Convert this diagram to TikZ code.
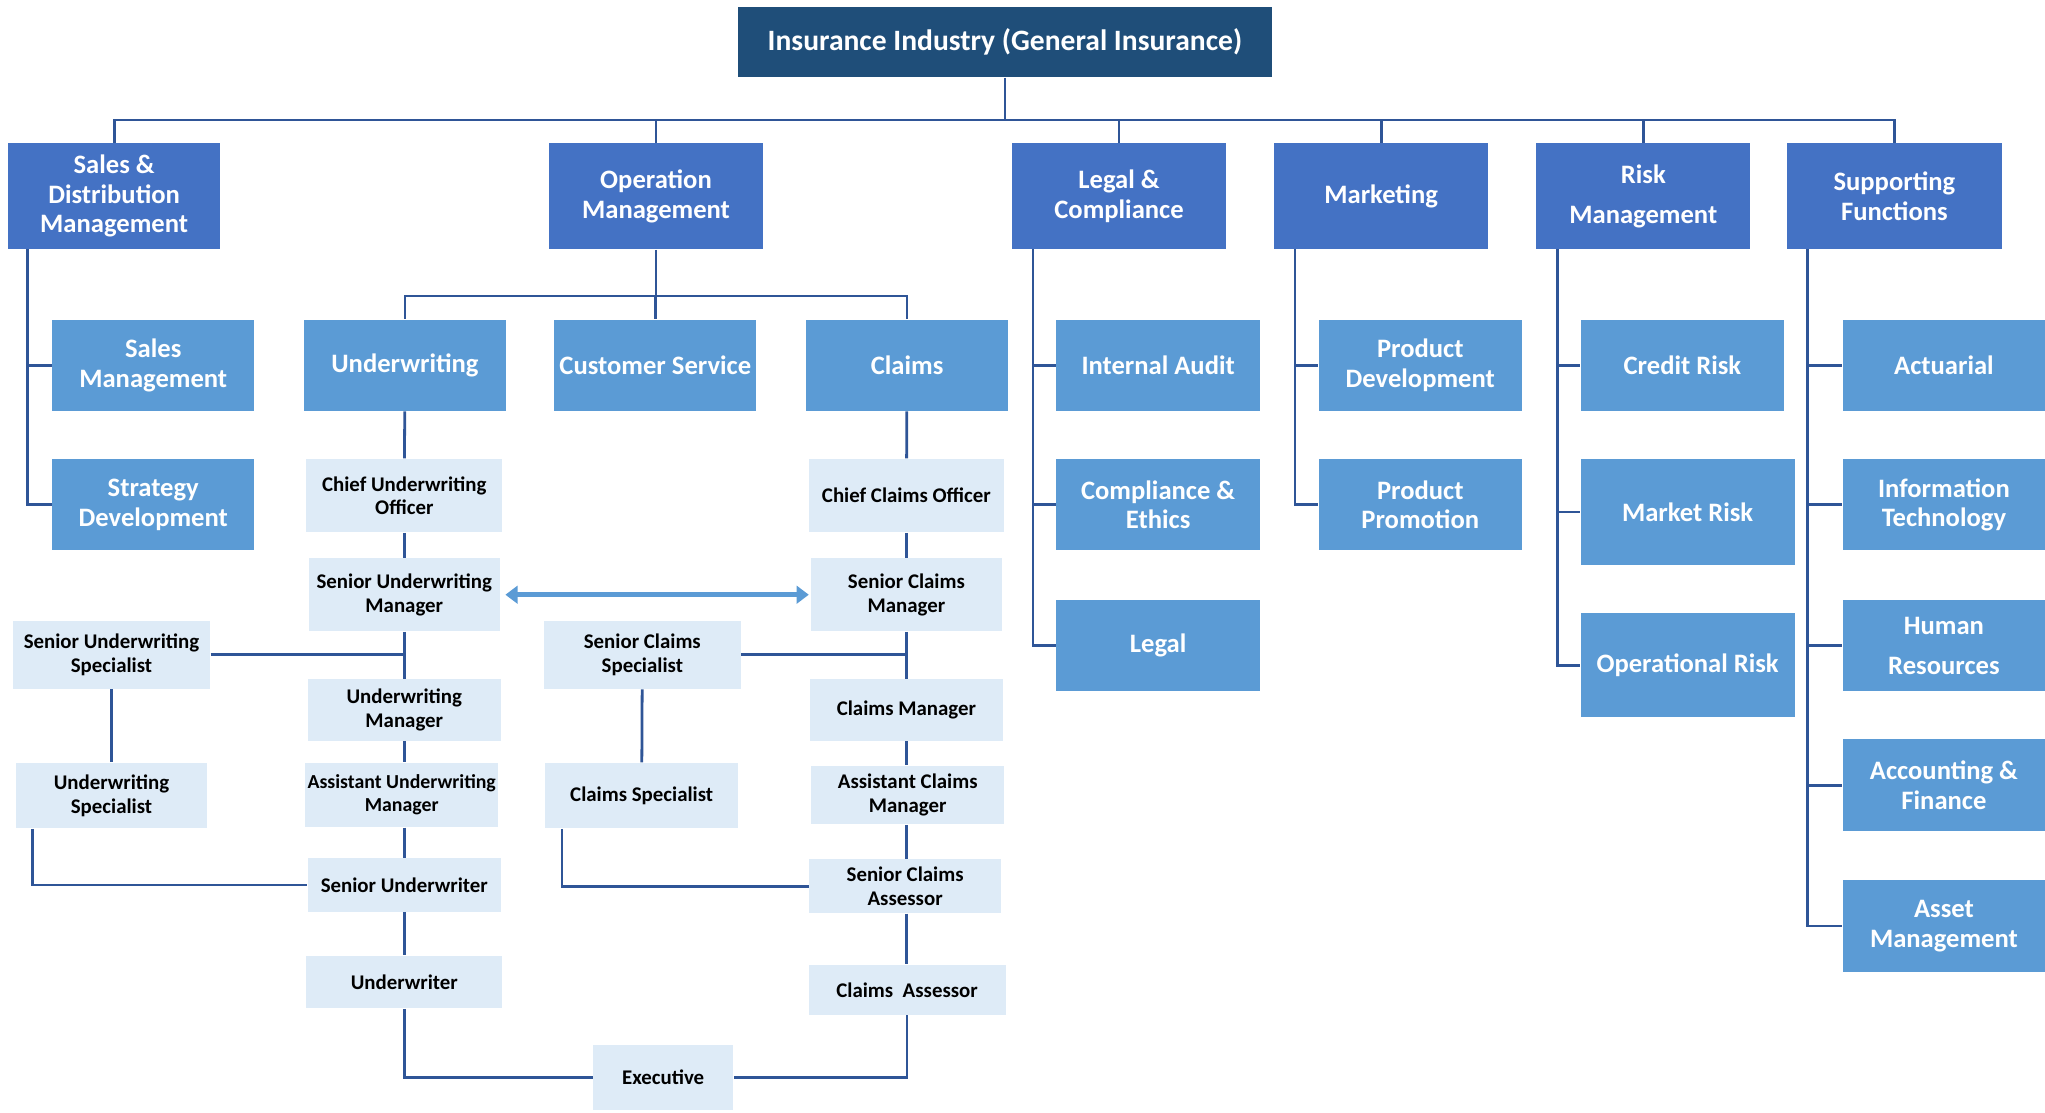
\documentclass[tikz,border=0pt]{standalone}
\usepackage{fontspec}
\setmainfont{Carlito}
\usetikzlibrary{arrows.meta}

\tikzset{every picture/.style={line width=0.75pt}}
\tikzset{
  sz/.style 2 args={minimum width=#1*0.75pt, minimum height=#2*0.75pt},
  headbox/.style={fill={rgb, 255:red, 31; green, 78; blue, 121 }, text=white, inner sep=0pt, align=center, font=\bfseries\fontsize{17}{20}\selectfont},
  deptbox/.style={fill={rgb, 255:red, 68; green, 114; blue, 196 }, text=white, inner sep=0pt, align=center, font=\bfseries\fontsize{15.3}{17}\selectfont},
  unitbox/.style={fill={rgb, 255:red, 91; green, 155; blue, 213 }, text=white, inner sep=0pt, align=center, font=\bfseries\fontsize{15.3}{17}\selectfont},
  rolebox/.style={fill={rgb, 255:red, 222; green, 235; blue, 247 }, text=black, inner sep=0pt, align=center, font=\bfseries\fontsize{12}{13.5}\selectfont},
  link/.style={draw={rgb, 255:red, 47; green, 85; blue, 151 }, line width=1.6pt},
  twoway/.style={draw={rgb, 255:red, 91; green, 155; blue, 213 }, line width=3pt, {Triangle[length=7pt,width=10pt]}-{Triangle[length=7pt,width=10pt]}},
}

\begin{document}
\begin{tikzpicture}[x=0.75pt,y=0.75pt,yscale=-1,xscale=1]
\useasboundingbox (0,0) rectangle (1568,853);

% Text Node
\node (title) at (770.5,32) [headbox, sz={409}{54}] {Insurance Industry (General Insurance)};

% Text Node
\node (sales) at (87.5,150.5) [deptbox, sz={163}{81}] {Sales \&\\Distribution\\Management};
\node (op) at (503,150.5) [deptbox, sz={164}{81}] {Operation\\Management};
\node (legal) at (858,150.5) [deptbox, sz={164}{81}] {Legal \&\\Compliance};
\node (mkt) at (1059,150.5) [deptbox, sz={164}{81}] {Marketing};
\node (risk) at (1260,150.5) [deptbox, sz={164}{81}] {Risk\\[6pt]Management};
\node (sup) at (1452.5,150.5) [deptbox, sz={165}{81}] {Supporting\\Functions};

% Text Node
\node (salesmgmt) at (117.5,280) [unitbox, sz={155}{70}] {Sales\\Management};
\node (strategy) at (117.5,387) [unitbox, sz={155}{70}] {Strategy\\Development};
\node (uw) at (310.5,280) [unitbox, sz={155}{70}] {Underwriting};
\node (custserv) at (502.5,280) [unitbox, sz={155}{70}] {Customer Service};
\node (claims) at (695.5,280) [unitbox, sz={155}{70}] {Claims};
\node (audit) at (888,280) [unitbox, sz={156}{70}] {Internal Audit};
\node (ethics) at (888,387) [unitbox, sz={156}{70}] {Compliance \&\\Ethics};
\node (legalunit) at (888,495) [unitbox, sz={156}{70}] {Legal};
\node (proddev) at (1089,280) [unitbox, sz={156}{70}] {Product\\Development};
\node (promo) at (1089,387) [unitbox, sz={156}{70}] {Product\\Promotion};
\node (credit) at (1290,280) [unitbox, sz={156}{70}] {Credit Risk};
\node (market) at (1294,392.5) [unitbox, sz={164}{81}] {Market Risk};
\node (oprisk) at (1294,510) [unitbox, sz={164}{80}] {Operational Risk};
\node (actuarial) at (1490.5,280) [unitbox, sz={155}{70}] {Actuarial};
\node (infotech) at (1490.5,387) [unitbox, sz={155}{70}] {Information\\Technology};
\node (hr) at (1490.5,495) [unitbox, sz={155}{70}] {Human\\[6pt]Resources};
\node (finance) at (1490.5,602) [unitbox, sz={155}{70}] {Accounting \&\\Finance};
\node (asset) at (1490.5,710) [unitbox, sz={155}{70}] {Asset\\Management};

% Text Node
\node (cuo) at (310,380) [rolebox, sz={150}{56}] {Chief Underwriting\\Officer};
\node (sum) at (310,456) [rolebox, sz={146}{56}] {Senior Underwriting\\Manager};
\node (um) at (310,544.5) [rolebox, sz={148}{47}] {Underwriting\\Manager};
\node (aum) at (308,609.5) [rolebox, sz={148}{49}, font=\bfseries\fontsize{11.4}{13}\selectfont] {Assistant Underwriting\\Manager};
\node (su) at (310,678.5) [rolebox, sz={148}{41}] {Senior Underwriter};
\node (uwr) at (310,753) [rolebox, sz={150}{40}] {Underwriter};
\node (sus) at (85.5,502) [rolebox, sz={151}{52}] {Senior Underwriting\\Specialist};
\node (usp) at (85.5,610) [rolebox, sz={147}{50}] {Underwriting\\Specialist};
\node (cco) at (695,380) [rolebox, sz={150}{56}] {Chief Claims Officer};
\node (scm) at (695,456) [rolebox, sz={146}{56}] {Senior Claims\\Manager};
\node (cm) at (695,544.5) [rolebox, sz={148}{47}] {Claims Manager};
\node (acm) at (696,609.5) [rolebox, sz={148}{45}] {Assistant Claims\\Manager};
\node (sca) at (694,679.5) [rolebox, sz={147}{41}] {Senior Claims\\Assessor};
\node (ca) at (695.5,759) [rolebox, sz={151}{38}] {Claims\ \ Assessor};
\node (scs) at (492.5,502) [rolebox, sz={151}{52}] {Senior Claims\\Specialist};
\node (csp) at (492,610) [rolebox, sz={148}{50}] {Claims Specialist};
\node (exec) at (508.5,826) [rolebox, sz={107}{50}] {Executive};

% Straight Lines
\coordinate (bus) at (770.5,92);
\draw [link] (title) -- (bus);
\foreach \d in {sales,op,legal,mkt,risk,sup}
  \draw [link] (bus) -| (\d.north);

% Straight Lines
\coordinate (opbus) at (503,227);
\draw [link] (op) -- (opbus);
\draw [link] (opbus) -| (uw.north);
\draw [link] (opbus) -| (custserv.north);
\draw [link] (opbus) -| (claims.north);

% Straight Lines
\coordinate (salestrunk) at (21,191);
\draw [link] (salestrunk) |- (salesmgmt.west);
\draw [link] (salestrunk) |- (strategy.west);
\coordinate (legaltrunk) at (792,191);
\foreach \u in {audit,ethics,legalunit}
  \draw [link] (legaltrunk) |- (\u.west);
\coordinate (mkttrunk) at (993,191);
\foreach \u in {proddev,promo}
  \draw [link] (mkttrunk) |- (\u.west);
\coordinate (risktrunk) at (1194,191);
\foreach \u in {credit,market,oprisk}
  \draw [link] (risktrunk) |- (\u.west);
\coordinate (suptrunk) at (1386,191);
\foreach \u in {actuarial,infotech,hr,finance,asset}
  \draw [link] (suptrunk) |- (\u.west);

% Straight Lines
\draw [link] (uw) -- (cuo);
\draw [link] (cuo) -- (sum);
\draw [link] (sum) -- (um);
\draw [link] (um.south) -- (um.south |- aum.north);
\draw [link] (aum.south -| um.south) -- (su);
\draw [link] (su) -- (uwr);
\draw [link] (sus.east) -- (sus.east -| sum.south);
\draw [link] (sus) -- (usp);
\draw [link] ([xshift=10pt]usp.south west) |- (su.west);
\draw [link] (uwr.south) |- (exec.west);

% Straight Lines
\draw [link] (claims) -- (cco);
\draw [link] (cco) -- (scm);
\draw [link] (scm) -- (cm);
\draw [link] (cm.south) -- (cm.south |- acm.north);
\draw [link] (acm.south -| cm.south) -- (sca.north -| cm.south);
\draw [link] (sca.south -| cm.south) -- (ca.north -| cm.south);
\draw [link] (scs.east) -- (scs.east -| scm.south);
\draw [link] (scs) -- (csp);
\draw [link] ([xshift=10pt]csp.south west) |- (sca.west);
\draw [link] (ca.south) |- (exec.east);

% Straight Lines
\draw [twoway, shorten <=3pt, shorten >=1pt] (sum.east) -- (scm.west);

\end{tikzpicture}
\end{document}
